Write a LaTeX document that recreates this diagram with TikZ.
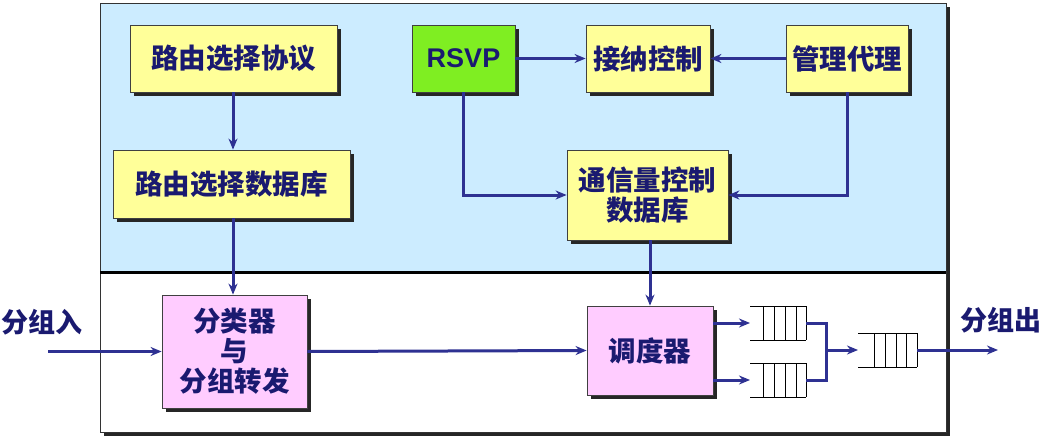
\documentclass[tikz,border=0pt]{standalone}
\usepackage{fontspec}
\setmainfont{Liberation Sans}
\newfontfamily\cjk{Noto Sans CJK SC}
\usetikzlibrary{arrows.meta,shadows}
\definecolor{panelblue}{HTML}{CCECFF}
\definecolor{boxyellow}{HTML}{FFFF99}
\definecolor{boxpink}{HTML}{FFCCFF}
\definecolor{boxgreen}{HTML}{7FEE22}
\definecolor{linecol}{HTML}{2E3192}
\definecolor{textcol}{HTML}{1A1A70}
\tikzset{
  box/.style={draw=black!75, line width=0.8pt, inner sep=0pt, align=center,
    font=\cjk\bfseries\fontsize{27.5}{30}\selectfont, text=textcol,
    drop shadow={shadow xshift=4pt, shadow yshift=-4pt, fill=black!85, opacity=1}},
  conn/.style={draw=linecol, line width=3pt, -{Stealth[length=11pt,width=9pt]}},
  plain/.style={draw=linecol, line width=3pt},
  qline/.style={draw=black, line width=0.8pt},
  lbl/.style={font=\cjk\bfseries\fontsize{27}{30}\selectfont, text=textcol, inner sep=0pt}
}
\begin{document}
\begin{tikzpicture}[x=1pt,y=-1pt]
\useasboundingbox (0,0) rectangle (1045,439);
% frame
\fill[black!85] (104,7) rectangle (950,436);
\fill[panelblue] (100,3) rectangle (946,272);
\fill[white] (100,272) rectangle (946,432);
\draw[black!80, line width=1pt] (100,3) rectangle (946,432);
\draw[black, line width=3pt] (100,272) -- (946,272);
% boxes
\node[box, fill=boxyellow, minimum width=207pt, minimum height=67pt] (rsp) at (233.5,58.5) {路由选择协议};
\node[box, fill=boxyellow, minimum width=237pt, minimum height=68pt] (rdb) at (231.5,184) {路由选择数据库};
\node[box, fill=boxgreen, minimum width=103pt, minimum height=67pt, font=\bfseries\fontsize{27}{30}\selectfont] (rsvp) at (463.5,58.5) {RSVP};
\node[box, fill=boxyellow, minimum width=124pt, minimum height=67pt] (adm) at (648,58.5) {接纳控制};
\node[box, fill=boxyellow, minimum width=122pt, minimum height=67pt] (mgr) at (847,58.5) {管理代理};
\node[box, fill=boxyellow, minimum width=161pt, minimum height=90pt] (tdb) at (647.5,195) {通信量控制\\数据库};
\node[box, fill=boxpink, minimum width=145pt, minimum height=113pt] (cls) at (234.5,351.5) {分类器\\与\\分组转发};
\node[box, fill=boxpink, minimum width=126pt, minimum height=89pt] (sch) at (650,350.5) {调度器};
% queues
\coordinate (q1w) at (750,323);
\coordinate (q1e) at (806,323);
\coordinate (q2w) at (750,380);
\coordinate (q2e) at (806,380);
\coordinate (q3w) at (858,350);
\coordinate (q3e) at (917,350);
\draw[qline] (750,306) -- (806,306) (750,340) -- (806,340);
\foreach \x in {763,774,785,796,806} \draw[qline] (\x,306) -- (\x,340);
\draw[qline] (750,363) -- (806,363) (750,397) -- (806,397);
\foreach \x in {763,774,785,796,806} \draw[qline] (\x,363) -- (\x,397);
\draw[qline] (858,333) -- (917,333) (858,367) -- (917,367);
\foreach \x in {874,885,896,906,917} \draw[qline] (\x,333) -- (\x,367);
% labels
\node[lbl] (pin) at (42,322) {分组入};
\node[lbl] (pout) at (1001,320) {分组出};
\coordinate (inS) at (48,351.5);
\coordinate (outE) at (998,350);
\coordinate (mergeA) at (826,323);
\coordinate (mergeB) at (826,380);
\coordinate (mergeM) at (826,350);
\coordinate (vx) at (233,0);
% connectors
\draw[conn] (rsp.south -| vx) -- (rdb.north -| vx);
\draw[conn] (rdb.south -| vx) -- (cls.north -| vx);
\draw[conn] (inS) -- (cls.west);
\draw[conn] (cls.east) -- (sch.west);
\draw[conn] (tdb.south -| sch.north) -- (sch.north);
\draw[conn] (rsvp) -- (adm);
\draw[conn] (mgr) -- (adm);
\draw[conn] (rsvp.south) |- (tdb.west);
\draw[conn] (mgr.south) |- (tdb.east);
\draw[conn] (sch.east |- q1w) -- (q1w);
\draw[conn] (sch.east |- q2w) -- (q2w);
\draw[plain] (q1e) -- (mergeA) -- (mergeB) -- (q2e);
\draw[conn] (mergeM) -- (q3w);
\draw[conn] (q3e) -- (outE);
\end{tikzpicture}
\end{document}
